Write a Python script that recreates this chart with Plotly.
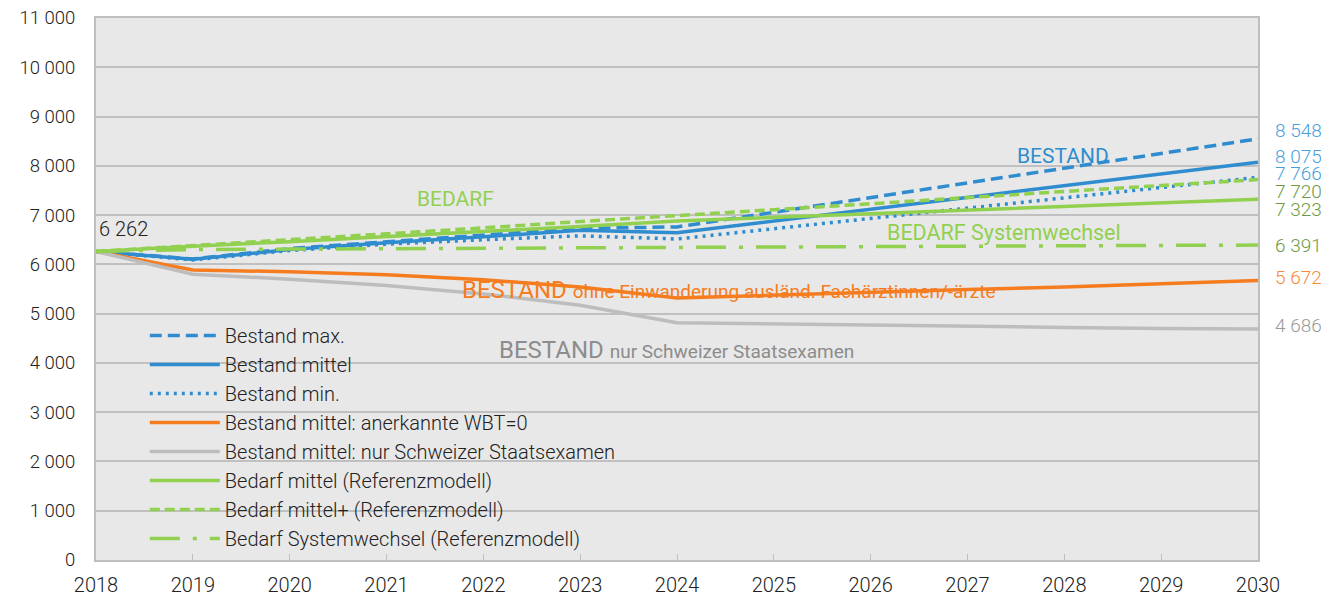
import plotly.graph_objects as go

years = list(range(2018, 2031))

bestand_max = [6262, 6110, 6320, 6460, 6590, 6730, 6760, 7060, 7360, 7660, 7960, 8250, 8548]
bestand_mittel = [6262, 6103, 6300, 6440, 6560, 6690, 6640, 6880, 7120, 7360, 7600, 7840, 8075]
bestand_min = [6262, 6090, 6280, 6410, 6500, 6580, 6515, 6720, 6930, 7140, 7350, 7560, 7766]
bestand_wbt0 = [6262, 5886, 5850, 5790, 5690, 5540, 5318, 5380, 5440, 5490, 5540, 5600, 5672]
bestand_ch = [6262, 5800, 5700, 5570, 5400, 5170, 4817, 4790, 4770, 4750, 4720, 4700, 4686]
bedarf_mittel = [6262, 6370, 6460, 6560, 6660, 6770, 6880, 6955, 7030, 7100, 7175, 7250, 7323]
bedarf_plus = [6262, 6380, 6500, 6620, 6740, 6870, 6982, 7110, 7230, 7360, 7480, 7600, 7720]
bedarf_system = [6262, 6300, 6310, 6320, 6325, 6330, 6335, 6345, 6355, 6365, 6375, 6385, 6391]

names = ["Bestand max.", "Bestand mittel", "Bestand min.",
         "Bestand mittel: anerkannte WBT=0",
         "Bestand mittel: nur Schweizer Staatsexamen",
         "Bedarf mittel (Referenzmodell)", "Bedarf mittel+ (Referenzmodell)",
         "Bedarf Systemwechsel (Referenzmodell)"]

BLUE = "#2f8dcf"
ORANGE = "#f57c1f"
GREY = "#bdbdbd"
GREEN = "#92d050"

series = [
    (bestand_max, BLUE, "12px,6px"),
    (bestand_mittel, BLUE, "solid"),
    (bestand_min, BLUE, "3px,5px"),
    (bestand_wbt0, ORANGE, "solid"),
    (bestand_ch, GREY, "solid"),
    (bedarf_mittel, GREEN, "solid"),
    (bedarf_plus, GREEN, "10px,5px"),
    (bedarf_system, GREEN, "30px,13px,4px,13px"),
]

fig = go.Figure()
for i, (vals, col, dash) in enumerate(series):
    fig.add_trace(go.Scatter(
        x=years, y=vals, name=names[i], mode="lines", legendgroup=str(i),
        line=dict(color=col, width=3.5, dash=dash)))

# Endwerte rechts (yshift: gegen Überlappung)
end_labels = [
    (bestand_max[-1], "#4a9fdc", 8),
    (bestand_mittel[-1], "#4a9fdc", 6),
    (bestand_min[-1], "#4a9fdc", 4),
    (bedarf_plus[-1], "#6e9a45", -12),
    (bedarf_mittel[-1], "#6e9a45", -10),
    (bedarf_system[-1], "#6e9a45", 0),
    (bestand_wbt0[-1], "#f58a3a", 3),
    (bestand_ch[-1], "#9a9a9a", 4),
]
for v, col, ys in end_labels:
    fig.add_annotation(x=1, xref="paper", y=v, yref="y", xanchor="left",
                       xshift=15, yshift=ys, showarrow=False,
                       text=f"{v:,}".replace(",", " "),
                       font=dict(family="Roboto", size=19, color=col, weight=300))

fig.add_annotation(x=years[0], y=bestand_mittel[0], xanchor="left", xshift=1, yshift=22,
                   showarrow=False, text=f"{bestand_mittel[0]:,}".replace(",", " "),
                   font=dict(family="Roboto", size=20, color="#222", weight=300))

fig.add_annotation(x=2027.49, y=8200, xanchor="left", showarrow=False, text="BESTAND",
                   font=dict(family="Roboto", size=21, color=BLUE))
fig.add_annotation(x=2021.29, y=7330, xanchor="left", showarrow=False, text="BEDARF",
                   font=dict(family="Roboto", size=21, color=GREEN))
fig.add_annotation(x=2026.15, y=6640, xanchor="left", showarrow=False,
                   text="BEDARF Systemwechsel",
                   font=dict(family="Roboto", size=21.5, color=GREEN))
fig.add_annotation(x=2021.76, y=5480, xanchor="left", showarrow=False,
                   text="BESTAND <span style='font-size:19px'>ohne Einwanderung ausländ. Fachärztinnen/-ärzte</span>",
                   font=dict(family="Roboto", size=24, color=ORANGE))
fig.add_annotation(x=2022.14, y=4262, xanchor="left", showarrow=False,
                   text="BESTAND <span style='font-size:19px'>nur Schweizer Staatsexamen</span>",
                   font=dict(family="Roboto", size=24, color="#8c8c8c"))

# Seite hat 8px Rand -> Grösse und Ränder so, dass alles ins Fenster passt
fig.update_layout(
    width=1313, height=588,
    margin=dict(l=88, r=63, t=10, b=36),
    paper_bgcolor="white",
    plot_bgcolor="#e8e8e8",
    separators=", ",
    font=dict(family="Roboto", size=20, color="#222"),
    showlegend=True,
    legend=dict(x=0.042, y=0.45, xanchor="left", yanchor="top",
                bgcolor="rgba(0,0,0,0)", itemwidth=70, tracegroupgap=0,
                font=dict(family="Roboto", size=20, color="#222", weight=300)),
    xaxis=dict(range=[2018, 2030], dtick=1, showgrid=False, zeroline=False,
               showline=True, mirror=True, linecolor="#bfbfbf", linewidth=2,
               ticks="inside", ticklen=6, tickcolor="#bfbfbf", automargin=False,
               ticklabeloverflow="allow",
               tickfont=dict(size=20, weight=300), ticklabelstandoff=6),
    yaxis=dict(range=[0, 11000], dtick=1000, tickformat=",d", showgrid=True,
               gridcolor="#c0c0c0", gridwidth=2, zeroline=False, automargin=False,
               showline=True, mirror=True, linecolor="#bfbfbf", linewidth=2,
               ticklabeloverflow="allow",
               ticks="", tickfont=dict(size=18.5, weight=300), ticklabelstandoff=15),
)

fig.write_html("out.html")
